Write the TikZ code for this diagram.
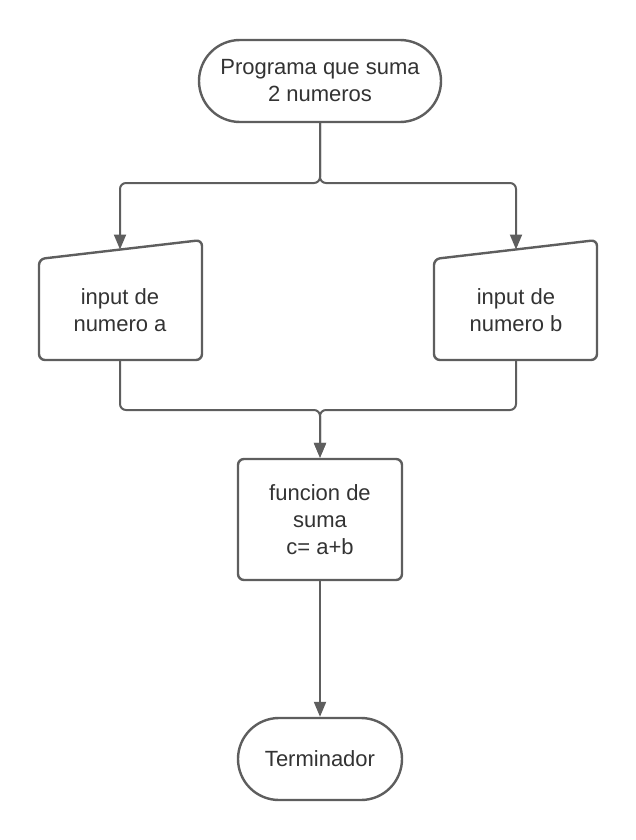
\documentclass[tikz,border=0pt]{standalone}
\usepackage{fontspec}
\setmainfont{Liberation Sans}
\usetikzlibrary{arrows.meta,shapes.misc}
\definecolor{ln}{HTML}{5E5E5E}
\definecolor{tx}{HTML}{333333}
\tikzset{
  term/.style={rounded rectangle, draw=ln, line width=2.4pt, fill=white, text=tx, align=center, inner sep=0pt, minimum height=82pt, font=\fontsize{22}{27}\selectfont},
  procbox/.style={rectangle, rounded corners=6pt, draw=ln, line width=2.4pt, fill=white, text=tx, align=center, inner sep=0pt, font=\fontsize{22}{27}\selectfont},
  inshape/.style={draw=ln, line width=2.4pt, fill=white, rounded corners=6pt, line join=round},
  intext/.style={text=tx, align=center, inner sep=0pt, font=\fontsize{22}{27}\selectfont},
  conn/.style={draw=ln, line width=2pt, rounded corners=6pt},
  arr/.style={conn, -{Triangle[length=15pt,width=12pt]}}
}
\begin{document}
\begin{tikzpicture}[x=1pt,y=-1pt]
\useasboundingbox (0,0) rectangle (635,840);
% start terminator
\node[term, minimum width=242pt] (start) at (320,81) {Programa que suma\\2 numeros};
% input a
\draw[inshape] (39,259) -- (202,240) -- (202,360) -- (39,360) -- cycle;
\node[intext] (ina) at (120,310) {input de\\numero a};
\coordinate (inatop) at (120,249.5);
\coordinate (inabot) at (120,359);
% input b
\draw[inshape] (434,259) -- (597,240) -- (597,360) -- (434,360) -- cycle;
\node[intext] (inb) at (516,310) {input de\\numero b};
\coordinate (inbtop) at (516,249.5);
\coordinate (inbbot) at (516,359);
% function
\node[procbox, minimum width=164pt, minimum height=121pt] (func) at (320,519.5) {funcion de\\suma\\c= a+b};
% end terminator
\node[term, minimum width=164pt] (fin) at (320,759) {Terminador};
% connectors
\coordinate (split) at (320,183);
\coordinate (merge) at (320,410);
\draw[arr] (start.south) -- (split) -| (inatop);
\draw[arr] (start.south) -- (split) -| (inbtop);
\draw[arr] (inabot) |- (merge) -- (func.north);
\draw[arr] (inbbot) |- (merge) -- (func.north);
\draw[arr] (func.south) -- (fin.north);
\end{tikzpicture}
\end{document}
